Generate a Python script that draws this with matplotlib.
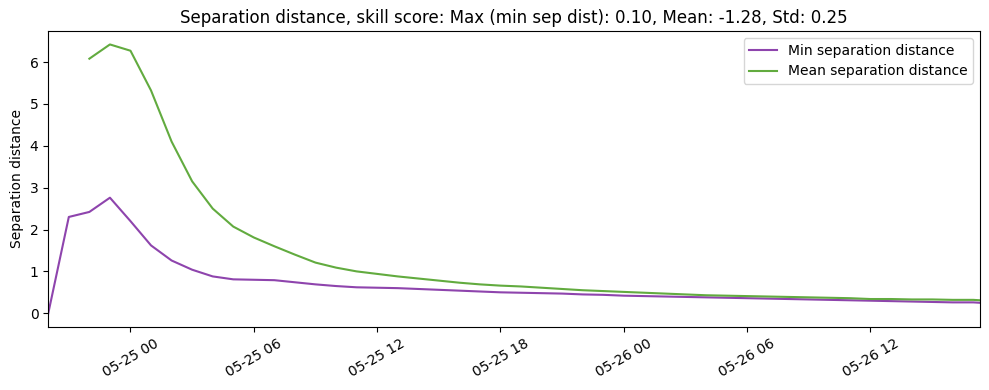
import numpy as np
import pandas as pd
import matplotlib
matplotlib.use("Agg")
import matplotlib.pyplot as plt
import matplotlib.dates as mdates

times = list(pd.date_range("2024-05-24 20:00", "2024-05-26 17:00", freq="h")) + [pd.Timestamp("2024-05-26 17:20")]

min_sep = [0.0, 2.30, 2.42, 2.76, 2.20, 1.62, 1.26, 1.04, 0.88, 0.81,
           0.80, 0.79, 0.74, 0.69, 0.65, 0.62, 0.61, 0.60, 0.58, 0.56,
           0.54, 0.52, 0.50, 0.49, 0.48, 0.47, 0.45, 0.44, 0.42, 0.41,
           0.40, 0.39, 0.38, 0.37, 0.36, 0.35, 0.34, 0.33, 0.32, 0.31,
           0.30, 0.29, 0.28, 0.27, 0.26, 0.26, 0.25]

mean_sep = [np.nan, np.nan, 6.08, 6.42, 6.27, 5.32, 4.10, 3.15, 2.50, 2.07,
            1.81, 1.60, 1.40, 1.21, 1.09, 1.00, 0.94, 0.88, 0.83, 0.78,
            0.73, 0.69, 0.66, 0.64, 0.61, 0.58, 0.55, 0.53, 0.51, 0.49,
            0.47, 0.45, 0.43, 0.42, 0.41, 0.40, 0.39, 0.38, 0.37, 0.36,
            0.34, 0.34, 0.33, 0.33, 0.32, 0.32, 0.31]

title = "Separation distance, skill score: Max (min sep dist): 0.10, Mean: -1.28, Std: 0.25"

fig, ax = plt.subplots(figsize=(9.89, 3.9), dpi=100)
ax.plot(times, min_sep, color="#8e44ad", lw=1.5, label="Min separation distance")
ax.plot(times, mean_sep, color="#62ab3f", lw=1.5, label="Mean separation distance")
ax.set_xlim(times[0], times[-1])
ax.set_ylabel("Separation distance")
ax.set_title(title)
ax.legend(loc="upper right")
ax.xaxis.set_major_locator(mdates.HourLocator(byhour=[0, 6, 12, 18]))
ax.xaxis.set_major_formatter(mdates.DateFormatter("%m-%d %H"))
plt.setp(ax.get_xticklabels(), rotation=30)
fig.subplots_adjust(left=0.0488, right=0.991, top=0.9205, bottom=0.1623)
fig.savefig("out.png", dpi=100)
